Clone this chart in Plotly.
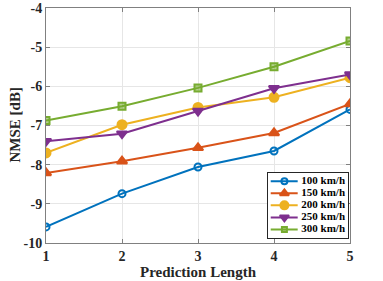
import plotly.graph_objects as go

x_vals = [1, 2, 3, 4, 5]
series_names = ["100 km/h", "150 km/h", "200 km/h", "250 km/h", "300 km/h"]
v100 = [-9.59, -8.74, -8.06, -7.65, -6.59]
v150 = [-8.21, -7.91, -7.57, -7.19, -6.45]
v200 = [-7.70, -6.98, -6.54, -6.28, -5.78]
v250 = [-7.40, -7.21, -6.63, -6.05, -5.70]
v300 = [-6.87, -6.51, -6.04, -5.50, -4.84]
y_ticks = [-10, -9, -8, -7, -6, -5, -4]

colors = ["#0072BD", "#D95319", "#EDB120", "#7E2F8E", "#77AC30"]
fills = ["rgba(0,0,0,0)", "#D95319", "#EDB120", "#7E2F8E", "rgba(119,172,48,0.55)"]
symbols = ["circle", "triangle-up", "circle", "triangle-down", "square"]
sizes = [7, 9, 9, 9, 7]
legend_sizes = [6, 8, 8, 8, 5]
values = [v100, v150, v200, v250, v300]

W, H = 383, 281
L, R, T, B = 46, 33, 8, 38
pw, ph = W - L - R, H - T - B

fig = go.Figure()
for name, vals, c, f, s, sz in zip(series_names, values, colors, fills, symbols, sizes):
    fig.add_trace(go.Scatter(
        x=x_vals, y=vals, name=name, mode="lines+markers",
        line=dict(color=c, width=2),
        marker=dict(symbol=s, size=sz, color=f, line=dict(color=c, width=2)),
        showlegend=False, xaxis="x", yaxis="y",
    ))

# custom compact legend drawn on an inset axis
for i, (name, c, f, s, sz) in enumerate(zip(series_names, colors, fills, symbols, legend_sizes)):
    fig.add_trace(go.Scatter(
        x=[0.04, 0.375], y=[i, i], mode="lines", line=dict(color=c, width=2),
        showlegend=False, hoverinfo="skip", xaxis="x2", yaxis="y2",
    ))
    fig.add_trace(go.Scatter(
        x=[0.21], y=[i], mode="markers",
        marker=dict(symbol=s, size=sz, color=f, line=dict(color=c, width=2)),
        showlegend=False, hoverinfo="skip", xaxis="x2", yaxis="y2",
    ))
    fig.add_trace(go.Scatter(
        x=[0.42], y=[i], mode="text", text=[name], textposition="middle right",
        textfont=dict(family="Liberation Serif", size=11, color="#000000", weight="bold"),
        showlegend=False, hoverinfo="skip", xaxis="x2", yaxis="y2",
    ))

lx0, lx1, ly0, ly1 = 267.5, 348.0, 172.5, 238.0
font_family = "Liberation Serif"
fig.update_layout(
    width=W, height=H,
    margin=dict(l=L, r=R, t=T, b=B),
    paper_bgcolor="white", plot_bgcolor="white",
    font=dict(family=font_family, size=12, color="#262626"),
    showlegend=False,
    xaxis=dict(
        range=[1, 5], tickvals=x_vals, ticktext=[str(v) for v in x_vals],
        showgrid=True, gridcolor="#E6E6E6", gridwidth=1,
        showline=True, linecolor="#808080", linewidth=1, mirror="ticks",
        ticks="inside", ticklen=4, tickcolor="#808080",
        tickfont=dict(family=font_family, size=14, color="#262626", weight="bold"),
        zeroline=False, automargin=False,
    ),
    yaxis=dict(
        range=[-10, -4], tickvals=y_ticks, ticktext=[str(v) for v in y_ticks],
        showgrid=True, gridcolor="#E6E6E6", gridwidth=1,
        showline=True, linecolor="#808080", linewidth=1, mirror="ticks",
        ticks="inside", ticklen=4, tickcolor="#808080",
        tickfont=dict(family=font_family, size=14, color="#262626", weight="bold"),
        zeroline=False, automargin=False,
    ),
    xaxis2=dict(
        domain=[(lx0 - L) / pw, (lx1 - L) / pw], range=[0, 1], anchor="y2",
        showgrid=False, zeroline=False, showticklabels=False, ticks="",
        showline=True, mirror=True, linecolor="#262626", linewidth=1, fixedrange=True,
    ),
    yaxis2=dict(
        domain=[(H - B - ly1) / ph, (H - B - ly0) / ph], range=[4.70, -0.72], anchor="x2",
        showgrid=False, zeroline=False, showticklabels=False, ticks="",
        showline=True, mirror=True, linecolor="#262626", linewidth=1, fixedrange=True,
    ),
    shapes=[dict(type="rect", xref="x2 domain", yref="y2 domain", x0=0, x1=1, y0=0, y1=1,
                 fillcolor="white", line=dict(width=0), layer="below")],
    annotations=[
        dict(text="<b>Prediction Length</b>", xref="paper", yref="paper", x=0.5, y=0,
             yshift=-29, xanchor="center", yanchor="middle", showarrow=False,
             font=dict(family=font_family, size=15, color="#262626")),
        dict(text="<b>NMSE [dB]</b>", xref="paper", yref="paper", x=0, y=0.5,
             xshift=-32, xanchor="center", yanchor="middle", showarrow=False, textangle=-90,
             font=dict(family=font_family, size=15, color="#262626")),
    ],
)

fig.write_html(
    "out.html",
    config={"displayModeBar": False},
    post_script="document.body.style.margin='0';document.body.style.overflow='hidden';",
)
